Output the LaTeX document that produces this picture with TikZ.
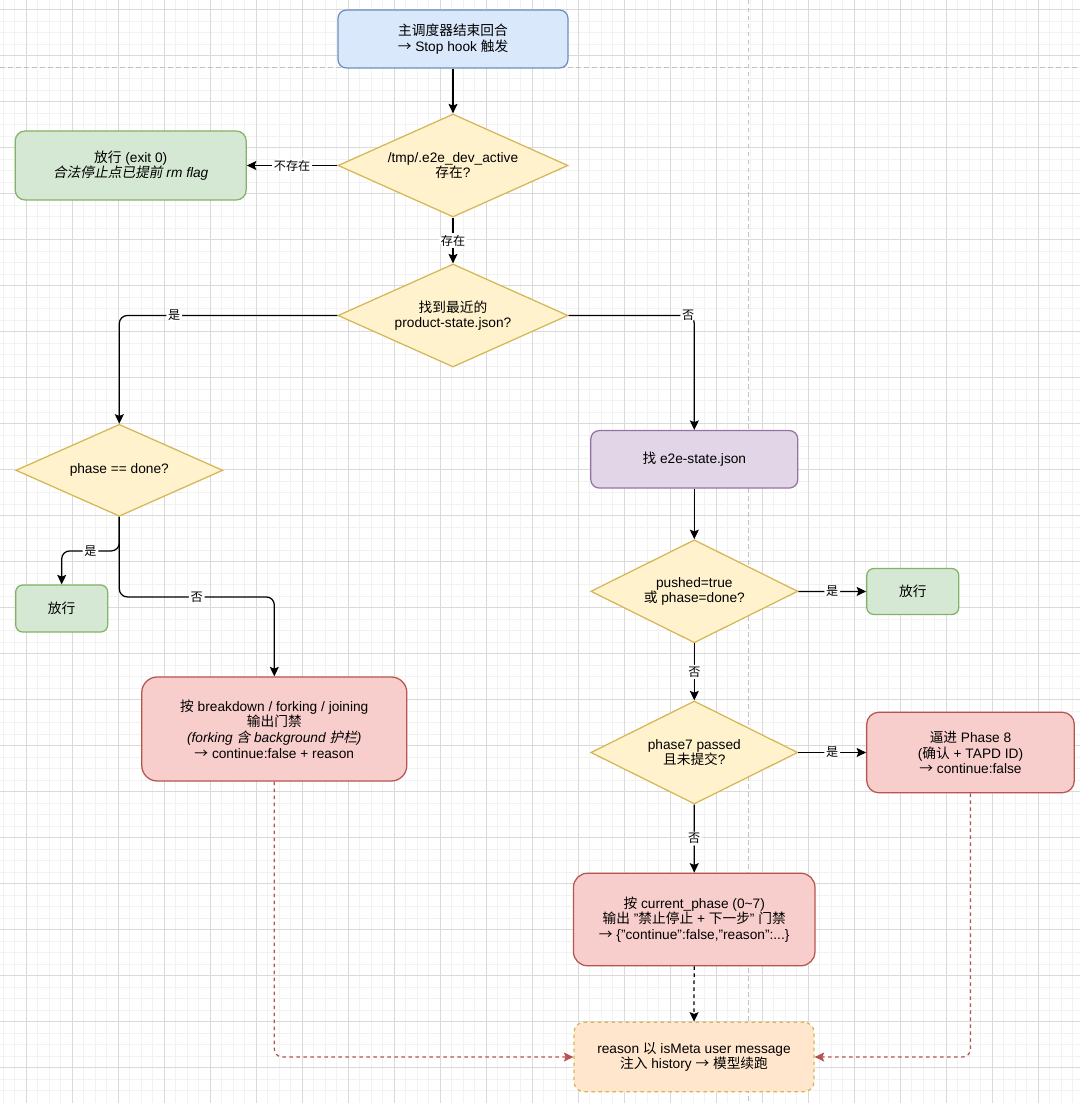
\documentclass[tikz,border=0pt]{standalone}
\usepackage{fontspec}
\setmainfont{Liberation Sans}
\newfontfamily\zhfont{Noto Sans CJK SC}[AutoFakeSlant=0.2]
\usetikzlibrary{arrows.meta,shapes.geometric}

% switch to the CJK family for ideographs (and the arrow)
\XeTeXinterchartokenstate=1
\newXeTeXintercharclass\zhclass
\newcount\zhc
\zhc="4E00
\loop \XeTeXcharclass\zhc=\zhclass \ifnum\zhc<"9FFF \advance\zhc by 1 \repeat
\XeTeXcharclass"2192=\zhclass
\XeTeXinterchartoks 0 \zhclass = {\zhfont}
\XeTeXinterchartoks 4095 \zhclass = {\zhfont}
\XeTeXinterchartoks \zhclass 0 = {\rmfamily}
\XeTeXinterchartoks \zhclass 4095 = {\rmfamily}

\definecolor{blueFill}{HTML}{DAE8FC}
\definecolor{blueLine}{HTML}{6C8EBF}
\definecolor{yellowFill}{HTML}{FFF2CC}
\definecolor{yellowLine}{HTML}{D6B656}
\definecolor{greenFill}{HTML}{D5E8D4}
\definecolor{greenLine}{HTML}{82B366}
\definecolor{purpleFill}{HTML}{E1D5E7}
\definecolor{purpleLine}{HTML}{9673A6}
\definecolor{redFill}{HTML}{F8CECC}
\definecolor{redLine}{HTML}{B85450}
\definecolor{orangeFill}{HTML}{FFE6CC}
\definecolor{gridMinor}{HTML}{F2F2F2}
\definecolor{gridMajor}{HTML}{DADADA}
\definecolor{pageLine}{HTML}{C2C2C2}

\tikzset{
  box/.style={rectangle, draw, line width=0.25mm, align=center, inner sep=0pt,
    font=\fontsize{7.8}{8.9}\selectfont},
  bluebox/.style={box, fill=blueFill, draw=blueLine},
  greenbox/.style={box, fill=greenFill, draw=greenLine},
  purplebox/.style={box, fill=purpleFill, draw=purpleLine},
  redbox/.style={box, fill=redFill, draw=redLine},
  notebox/.style={box, fill=orangeFill, draw=yellowLine, dash pattern=on 0.7mm off 0.7mm},
  decision/.style={diamond, aspect=2.2, draw=yellowLine, fill=yellowFill, line width=0.25mm,
    align=center, inner sep=0pt, minimum width=46mm, minimum height=20.6mm,
    font=\fontsize{7.8}{8.9}\selectfont},
  flow/.style={draw, line width=0.25mm, rounded corners=1.6mm,
    -{Stealth[length=1.9mm, width=1.8mm, inset=0.35mm]}},
  backflow/.style={flow, draw=redLine, dash pattern=on 0.7mm off 0.7mm},
  lbl/.style={fill=white, inner sep=1pt, font=\fontsize{6.9}{8}\selectfont},
}

\begin{document}
\begin{tikzpicture}[x=0.2mm, y=-0.2mm]
  %%%%% background grid %%%%%
  \useasboundingbox (0,0) rectangle (1080,1103);
  \fill[white] (0,0) rectangle (1080,1103);
  \foreach \i in {0,...,93} \draw[gridMinor, line width=0.2mm] ({3.3+11.5*\i},0) -- ++(0,1103);
  \foreach \j in {0,...,95} \draw[gridMinor, line width=0.2mm] (0,{-1.8+11.5*\j}) -- ++(1080,0);
  \foreach \i in {0,...,22} \draw[gridMajor, line width=0.2mm] ({26.3+46*\i},0) -- ++(0,1103);
  \foreach \j in {0,...,23} \draw[gridMajor, line width=0.2mm] (0,{9.7+46*\j}) -- ++(1080,0);
  \draw[pageLine, line width=0.2mm, dash pattern=on 0.9mm off 0.7mm] (0,67.3) -- (1080,67.3);
  \draw[pageLine, line width=0.2mm, dash pattern=on 0.9mm off 0.7mm] (748.7,0) -- (748.7,1103);

  %%%%% nodes %%%%%
  \node[bluebox, minimum width=46mm, minimum height=11.6mm, rounded corners=1.7mm] (start) at (453,39) {主调度器结束回合\\→ Stop hook 触发};
  \node[decision] (flag) at (453,165.5) {/tmp/.e2e\_dev\_active\\存在?};
  \node[greenbox, minimum width=46.2mm, minimum height=13.8mm, rounded corners=2mm] (exitok) at (130.7,165.5) {放行 (exit 0)\\\textit{合法停止点已提前 rm flag}};
  \node[decision] (prod) at (453,315.5) {找到最近的\\product-state.json?};

  \node[decision, minimum width=41.4mm, minimum height=18.4mm] (pdone) at (119.3,470.3) {phase == done?};
  \node[greenbox, minimum width=18.4mm, minimum height=9.4mm, rounded corners=1.4mm] (passA) at (61.7,608.5) {放行};
  \node[redbox, minimum width=53mm, minimum height=20.8mm, rounded corners=3.1mm] (gateA) at (274.3,729) {按 breakdown / forking / joining\\输出门禁\\\textit{(forking 含 background 护栏)}\\→ continue:false + reason};

  \node[purplebox, minimum width=41.4mm, minimum height=11.5mm, rounded corners=1.7mm] (e2e) at (694.3,459.3) {找 e2e-state.json};
  \node[decision, minimum width=41.4mm] (pushed) at (694.3,591.3) {pushed=true\\或 phase=done?};
  \node[greenbox, minimum width=18.4mm, minimum height=9.2mm, rounded corners=1.4mm] (passB) at (912.8,591.5) {放行};
  \node[decision, minimum width=41.4mm] (p7) at (694.3,752.5) {phase7 passed\\且未提交?};
  \node[redbox, minimum width=41.5mm, minimum height=16.1mm, rounded corners=2.4mm] (force8) at (970.5,752.5) {逼进 Phase 8\\(确认 + TAPD ID)\\→ continue:false};
  \node[redbox, minimum width=48.3mm, minimum height=18.5mm, rounded corners=2.8mm] (gateB) at (694.2,919.5) {按 current\_phase (0\textasciitilde7)\\输出 "禁止停止 + 下一步" 门禁\\→ \{"continue":false,"reason":...\}};
  \node[notebox, minimum width=48mm, minimum height=13.9mm, rounded corners=2mm] (inject) at (694,1057) {reason 以 isMeta user message\\注入 history → 模型续跑};

  %%%%% connectors %%%%%
  \draw[flow] (start) -- (flag);
  \draw[flow] (flag) -- node[lbl]{不存在} (exitok);
  \draw[flow] (flag) -- node[lbl]{存在} (prod);
  \draw[flow] (prod.west) -| node[lbl, pos=0.374]{是} (pdone.north);
  \draw[flow] (prod.east) -| node[lbl, pos=0.476]{否} (e2e.north);
  \draw[flow] (pdone.south) -- ++(0,34) -| node[lbl, pos=0.25]{是} (passA.north);
  \draw[flow] (pdone.south) -- ++(0,80) -| node[lbl, pos=0.25]{否} (gateA.north);
  \draw[flow] (e2e) -- (pushed);
  \draw[flow] (pushed) -- node[lbl]{是} (passB);
  \draw[flow] (pushed) -- node[lbl]{否} (p7);
  \draw[flow] (p7) -- node[lbl]{是} (force8);
  \draw[flow] (p7) -- node[lbl]{否} (gateB);
  \draw[flow, dash pattern=on 0.7mm off 0.7mm] (gateB) -- (inject);
  \draw[backflow] (gateA.south) |- (inject.west);
  \draw[backflow] (force8.south) |- (inject.east);
\end{tikzpicture}
\end{document}
